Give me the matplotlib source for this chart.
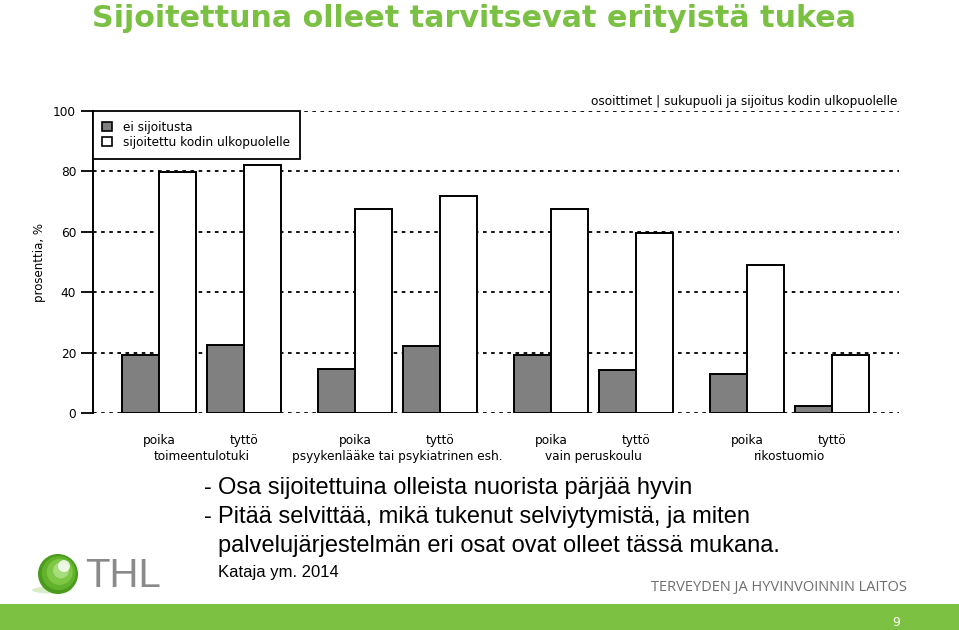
import numpy as np
import matplotlib.pyplot as plt
from matplotlib.patches import Patch, Circle, Ellipse, Rectangle

# data
categories = ["toimeentulotuki", "psyykenlääke tai psykiatrinen esh.",
              "vain peruskoulu", "rikostuomio"]
genders = ["poika", "tyttö"]
ei_sijoitusta = [19.3, 22.6, 14.7, 22.2, 19.3, 14.3, 12.9, 2.5]
sijoitettu = [79.8, 82.0, 67.4, 71.8, 67.4, 59.5, 49.0, 19.3]
series_names = ["ei sijoitusta", "sijoitettu kodin ulkopuolelle"]
yticks = [0, 20, 40, 60, 80, 100]

green = "#7ac143"
dark = "#808080"

fig = plt.figure(figsize=(9.59, 6.3), dpi=100)

# slide background layer in pixel coordinates
bg = fig.add_axes([0, 0, 1, 1], zorder=0)
bg.set_xlim(0, 959)
bg.set_ylim(630, 0)
bg.axis("off")

bg.text(92, 27, "Sijoitettuna olleet tarvitsevat erityistä tukea", color=green,
        fontsize=21.7, fontweight="bold", ha="left", va="baseline",
        family="DejaVu Sans")

txt = dict(fontsize=17, color="black", ha="left", va="center", family="Liberation Sans")
bg.text(204, 488, "-", **txt)
bg.text(218, 488, "Osa sijoitettuina olleista nuorista pärjää hyvin", **txt)
bg.text(204, 517, "-", **txt)
bg.text(218, 517, "Pitää selvittää, mikä tukenut selviytymistä, ja miten", **txt)
bg.text(218, 546, "palvelujärjestelmän eri osat ovat olleet tässä mukana.", **txt)
bg.text(218, 572, "Kataja ym. 2014", fontsize=12, color="black", ha="left", va="center",
        family="Liberation Sans")

# THL logo
bg.add_patch(Ellipse((52, 590), 40, 7, color="#d8ecc8", lw=0))
for r, c in [(20, "#4a9a1e"), (17, "#62b22c"), (13, "#7fc846"), (8, "#a6dc7a")]:
    bg.add_patch(Circle((58 + (20 - r) * 0.25, 574 - (20 - r) * 0.3), r, color=c, lw=0))
bg.add_patch(Circle((64, 566), 6, color="white", alpha=0.8, lw=0))
bg.text(85, 576, "THL", fontsize=29, color="#8a8a8a", ha="left", va="center",
        family="Liberation Sans")
bg.text(907, 587, "TERVEYDEN JA HYVINVOINNIN LAITOS", fontsize=10.5, color="#6e6e6e",
        ha="right", va="center", family="Open Sans")

bg.add_patch(Rectangle((0, 604), 959, 26, color="#7dc142", lw=0))
bg.text(896, 622, "9", fontsize=9, color="white", ha="center", va="center")

# chart
ax = fig.add_axes([0.0967, 0.344, 0.8407, 0.480], zorder=1)
ax.patch.set_alpha(0)

w = 0.435
gap = 2.306
centers = np.array([g * gap + k for g in range(len(categories)) for k in range(len(genders))])

ax.set_axisbelow(True)
ax.bar(centers - w / 2, ei_sijoitusta, w, color=dark, edgecolor="black", lw=1.4,
       label=series_names[0], zorder=3)
ax.bar(centers + w / 2, sijoitettu, w, color="white", edgecolor="black", lw=1.4,
       label=series_names[1], zorder=3)

ax.set_ylim(0, 100)
ax.set_xlim(-0.78, 8.706)
ax.set_yticks(yticks)
ax.yaxis.grid(True, color="black", linestyle=(0, (2, 2.5)), lw=1.3, zorder=0)
for s in ["top", "right", "bottom"]:
    ax.spines[s].set_visible(False)
ax.spines["left"].set_linewidth(1.4)
ax.tick_params(axis="y", length=9, width=1.3, labelsize=8.7, pad=3)

ax.set_xticks(centers)
ax.set_xticklabels([genders[i % 2] for i in range(len(centers))], fontsize=8.7)
ax.tick_params(axis="x", length=0, pad=15)

for g, cat in enumerate(categories):
    ax.text(g * gap + 0.5, -0.143, cat, transform=ax.get_xaxis_transform(),
            ha="center", va="center", fontsize=8.7)

ax.set_ylabel("prosenttia, %", fontsize=8.5)
ax.yaxis.set_label_coords(-0.058, 0.5)

ax.text(0.998, 1.008, "osoittimet | sukupuoli ja sijoitus kodin ulkopuolelle",
        transform=ax.transAxes, ha="right", va="bottom", fontsize=8.7)

handles = [Patch(facecolor=dark, edgecolor="black", lw=1.2),
           Patch(facecolor="white", edgecolor="black", lw=1.2)]
leg = ax.legend(handles, series_names, loc="upper left", bbox_to_anchor=(0, 1),
                borderaxespad=0, fancybox=False, fontsize=8.7, handlelength=0.8,
                handleheight=0.8, handletextpad=0.9, borderpad=0.8, labelspacing=0.2,
                framealpha=1)
leg.get_frame().set_edgecolor("black")
leg.get_frame().set_linewidth(1.3)

fig.savefig("out.png", dpi=100)
